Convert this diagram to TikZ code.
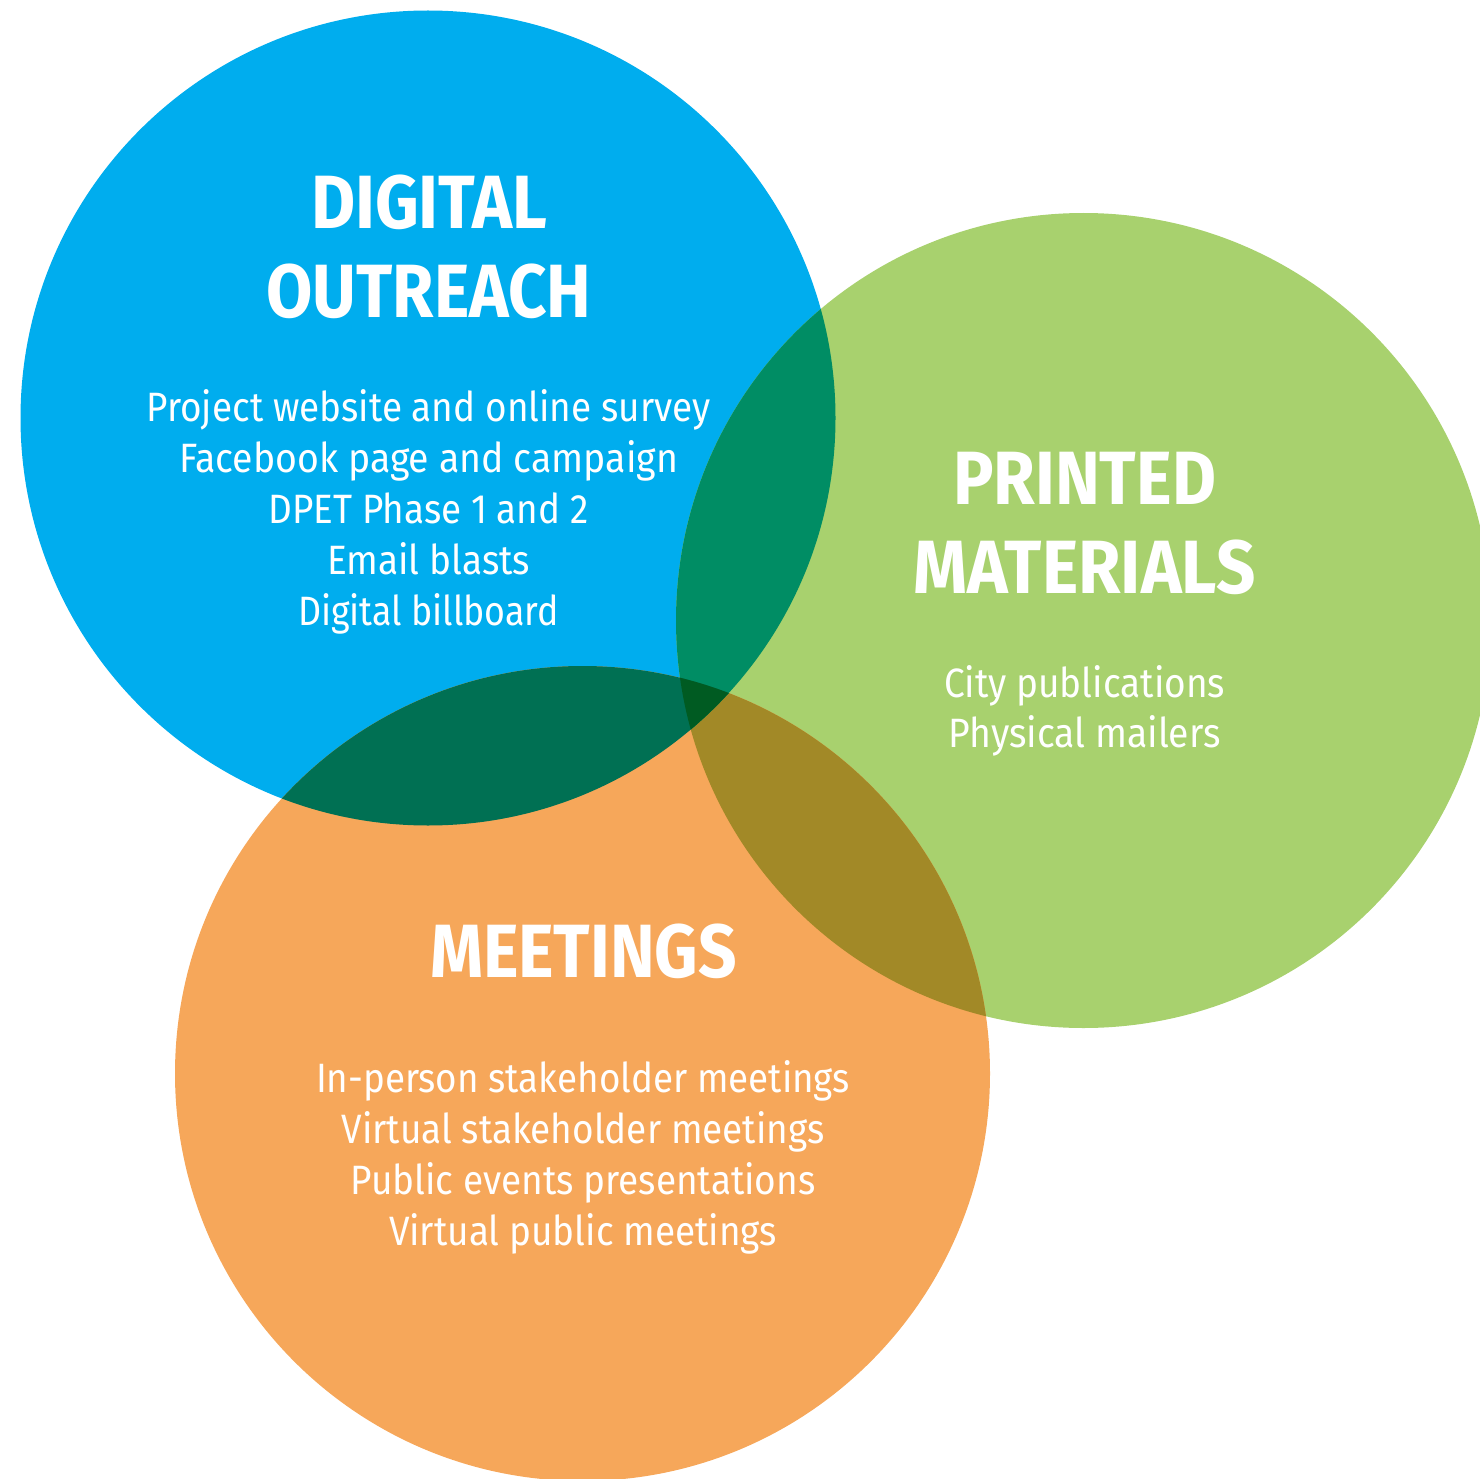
\documentclass[tikz,border=0pt]{standalone}
\usepackage{fontspec}
\setmainfont{Fira Sans}
\usepackage{graphicx}
\definecolor{cblue}{RGB}{0,173,238}
\definecolor{cgreen}{RGB}{168,209,110}
\definecolor{corange}{RGB}{246,167,90}
\definecolor{cbg}{RGB}{0,141,100}
\definecolor{cbo}{RGB}{0,112,83}
\definecolor{cgo}{RGB}{162,137,39}
\definecolor{cbgo}{RGB}{0,91,34}
\newlength\fitlen
\newcommand\fitw[2]{\settowidth\fitlen{#2}\pgfmathsetmacro\fitfac{#1/\fitlen}\scalebox{\fitfac}[1]{#2}}
\begin{document}
\begin{tikzpicture}[x=1pt,y=-1pt,
  ttl/.style={text=white,inner sep=0pt,anchor=base,font=\fontsize{75.5pt}{75.5pt}\selectfont\bfseries},
  bodytxt/.style={text=white,inner sep=0pt,anchor=base,font=\fontsize{41pt}{41pt}\selectfont}]
\useasboundingbox (0,0) rectangle (1480,1479);
\clip (0,0) rectangle (1480,1479);
% circles
\fill[cblue] (428,418) circle[radius=407.5];
\fill[cgreen] (1083.5,620.5) circle[radius=407.5];
\fill[corange] (582.5,1073.5) circle[radius=407.5];
\begin{scope}
  \clip (1083.5,620.5) circle[radius=407.5];
  \fill[cgo] (582.5,1073.5) circle[radius=407.5];
\end{scope}
\begin{scope}
  \clip (428,418) circle[radius=407.5];
  \fill[cbg] (1083.5,620.5) circle[radius=407.5];
  \fill[cbo] (582.5,1073.5) circle[radius=407.5];
  \clip (1083.5,620.5) circle[radius=407.5];
  \fill[cbgo] (582.5,1073.5) circle[radius=407.5];
\end{scope}
% digital outreach
\node[ttl] (d1) at (429,228.3) {\fitw{236pt}{DIGITAL}};
\node[ttl] (d2) at (429,317.7) {\fitw{325pt}{OUTREACH}};
\node[bodytxt] (db1) at (428.5,421.5) {\fitw{564pt}{Project website and online survey}};
\node[bodytxt] (db2) at (428.5,472.4) {\fitw{499pt}{Facebook page and campaign}};
\node[bodytxt] (db3) at (428.5,523.3) {\fitw{320pt}{DPET Phase 1 and 2}};
\node[bodytxt] (db4) at (428.5,574.2) {\fitw{203pt}{Email blasts}};
\node[bodytxt] (db5) at (428.5,625.1) {\fitw{261pt}{Digital billboard}};
% printed materials
\node[ttl] (p1) at (1084.5,504) {\fitw{263pt}{PRINTED}};
\node[ttl] (p2) at (1084.5,593.3) {\fitw{342pt}{MATERIALS}};
\node[bodytxt] (pb1) at (1084.5,697.7) {\fitw{281pt}{City publications}};
\node[bodytxt] (pb2) at (1084.5,747.5) {\fitw{272pt}{Physical mailers}};
% meetings
\node[ttl] (m1) at (583.5,977.3) {\fitw{307pt}{MEETINGS}};
\node[bodytxt] (mb1) at (583,1092.5) {\fitw{534pt}{In-person stakeholder meetings}};
\node[bodytxt] (mb2) at (583,1143.5) {\fitw{483pt}{Virtual stakeholder meetings}};
\node[bodytxt] (mb3) at (583,1194.5) {\fitw{465pt}{Public events presentations}};
\node[bodytxt] (mb4) at (583,1245.5) {\fitw{388pt}{Virtual public meetings}};
\end{tikzpicture}
\end{document}
